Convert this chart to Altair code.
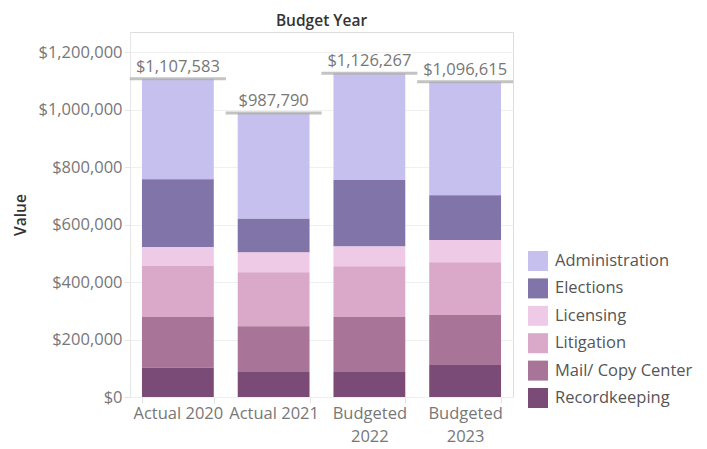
import altair as alt
import pandas as pd

years = ["Actual 2020", "Actual 2021", "Budgeted 2022", "Budgeted 2023"]
categories = ["Administration", "Elections", "Licensing", "Litigation",
              "Mail/ Copy Center", "Recordkeeping"]
colors = ["#c6c0ef", "#8074a8", "#efcae6", "#daa8c8", "#a87498", "#7b4b77"]

values = {
    "Administration":    [349583, 367790, 371267, 394615],
    "Elections":         [236000, 117000, 231000, 156000],
    "Licensing":         [66000, 69000, 69000, 77000],
    "Litigation":        [178000, 188000, 177000, 184000],
    "Mail/ Copy Center": [176000, 159000, 191000, 174000],
    "Recordkeeping":     [102000, 87000, 87000, 111000],
}

rows = []
for ci, cat in enumerate(categories):
    for yi, yr in enumerate(years):
        rows.append({"Year": yr, "Category": cat, "Value": values[cat][yi],
                     "ord": len(categories) - ci})
df = pd.DataFrame(rows)

FONT = "Open Sans"
FS = 16.5
W, H = 383, 365

x_enc = alt.X("Year:N", sort=years,
              scale=alt.Scale(paddingInner=0.25, paddingOuter=0.125),
              axis=alt.Axis(title=None, labelAngle=0, labelFontSize=FS,
                            labelColor="#777777", labelFont=FONT,
                            labelPadding=2, tickBand="extent",
                            tickColor="#e2e2e2", tickSize=6,
                            domain=False, labelLineHeight=23,
                            labelExpr="indexof(datum.label, 'Budgeted') == 0 ? split(datum.label, ' ') : datum.label"))

y_scale = alt.Scale(domain=[0, 1270000], nice=False)

bars = alt.Chart(df).mark_bar().encode(
    x=x_enc,
    y=alt.Y("Value:Q", stack="zero", scale=y_scale,
            axis=alt.Axis(title="Value", values=[0, 200000, 400000, 600000, 800000, 1000000, 1200000],
                          format="$,.0f", labelFontSize=FS, labelColor="#777777",
                          labelFont=FONT, titleFont=FONT, titleFontSize=15.5,
                          titleColor="#333333", titleFontWeight=600,
                          titlePadding=9, gridColor="#f0f0f0",
                          domainColor="#e6e6e6", tickColor="#e6e6e6", tickSize=6)),
    color=alt.Color("Category:N", sort=categories,
                    scale=alt.Scale(domain=categories, range=colors),
                    legend=alt.Legend(title=None, orient="none", legendX=398, legendY=219,
                                      symbolType="square", symbolSize=400,
                                      symbolStrokeWidth=0, labelFontSize=FS,
                                      labelFont=FONT, labelColor="#555555",
                                      rowPadding=7.4, labelOffset=7, padding=0)),
    order=alt.Order("ord:Q", sort="ascending"),
)

totals = alt.Chart(df).transform_aggregate(
    Total="sum(Value)", groupby=["Year"]
)

rule = totals.mark_tick(color="#aaaaaa", thickness=3, size=96, orient="horizontal").encode(
    x=alt.X("Year:N", sort=years), y=alt.Y("Total:Q", scale=y_scale)
)

text = totals.mark_text(baseline="bottom", dy=-4, fontSize=FS, font=FONT,
                        color="#777777").encode(
    x=alt.X("Year:N", sort=years), y=alt.Y("Total:Q", scale=y_scale),
    text=alt.Text("Total:Q", format="$,.0f")
)

chart = alt.layer(bars, rule, text).properties(
    width=W, height=H,
    title=alt.TitleParams("Budget Year", font=FONT, fontSize=15.5, fontWeight=600,
                          color="#333333", anchor="middle", frame="group", offset=3)
).configure_view(stroke=None).configure(background="white")

chart.save("out.html", embed_options={"renderer": "svg", "actions": False})
